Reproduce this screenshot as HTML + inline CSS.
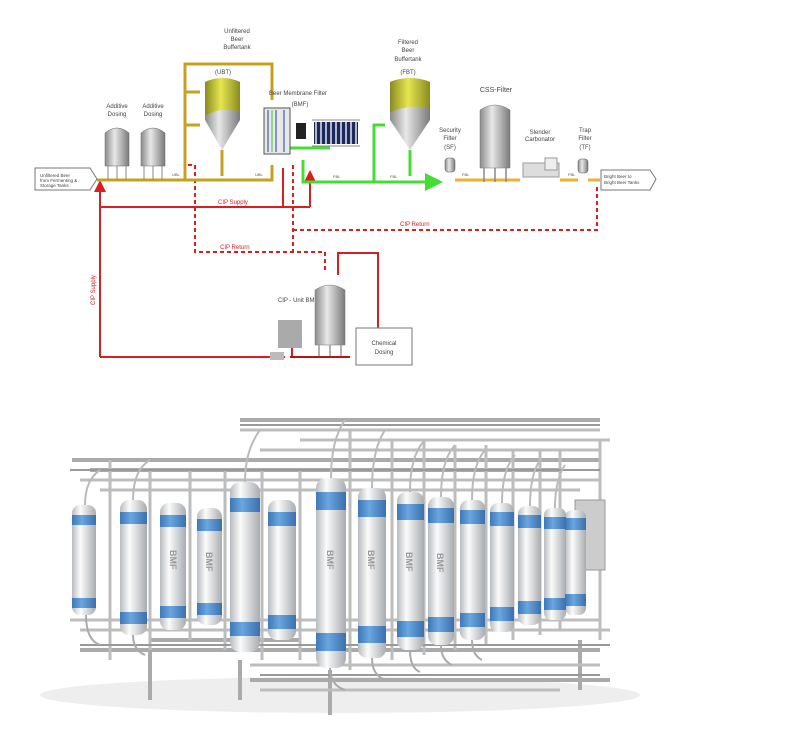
<!DOCTYPE html>
<html><head><meta charset="utf-8"><style>
html,body{margin:0;padding:0;background:#fff}
svg{display:block}
text{font-family:"Liberation Sans",sans-serif}
</style></head><body>
<svg width="788" height="738" viewBox="0 0 788 738" xmlns="http://www.w3.org/2000/svg">
<defs>
<linearGradient id="steel" x1="0" x2="1"><stop offset="0" stop-color="#8a8a8a"/><stop offset=".4" stop-color="#e8e8e8"/><stop offset="1" stop-color="#7a7a7a"/></linearGradient>
<linearGradient id="gold" x1="0" x2="1"><stop offset="0" stop-color="#8a8a20"/><stop offset=".45" stop-color="#e6e650"/><stop offset="1" stop-color="#8a8a20"/></linearGradient>
<linearGradient id="cyl" x1="0" x2="1"><stop offset="0" stop-color="#b8bcc0"/><stop offset=".35" stop-color="#fbfbfb"/><stop offset="1" stop-color="#a8acb0"/></linearGradient>
<linearGradient id="blue" x1="0" x2="1"><stop offset="0" stop-color="#3d78b8"/><stop offset=".4" stop-color="#6aa6e0"/><stop offset="1" stop-color="#3a70ad"/></linearGradient>
<marker id="ar" markerWidth="6" markerHeight="6" refX="5" refY="3" orient="auto"><path d="M0,0L6,3L0,6z" fill="#d82020"/></marker>
<marker id="ag" markerWidth="6" markerHeight="6" refX="5" refY="3" orient="auto"><path d="M0,0L6,3L0,6z" fill="#44dd33"/></marker>
</defs>

<!-- red CIP lines -->
<g stroke="#d82020" stroke-width="2" fill="none">
<path d="M100,357V182"/><path d="M100,357H285"/>
<path d="M100,207H283V168"/><path d="M310,207V172" marker-end="url(#ar)"/><path d="M283,207H310"/>
<path d="M338,275V253H378V330"/>
<path d="M300,357H292V348" />
</g>
<path d="M100,195V182" stroke="#d82020" stroke-width="2" marker-end="url(#ar)"/>
<g stroke="#d82020" stroke-width="2" fill="none" stroke-dasharray="4,3">
<path d="M188,165H195V252H325V272"/>
<path d="M293,165V252"/>
<path d="M293,230H597V185"/>
</g>
<text x="218" y="204" font-size="6" fill="#d82020">CIP Supply</text>
<text x="220" y="249" font-size="6" fill="#d82020">CIP Return</text>
<text x="400" y="226" font-size="6" fill="#d82020">CIP Return</text>
<text x="95" y="305" font-size="6" fill="#d82020" transform="rotate(-90 95 305)">CIP Supply</text>

<!-- yellow lines -->
<g stroke="#c8a020" stroke-width="3" fill="none">
<path d="M97,180H272V165"/><path d="M185,180V64H272V100"/>
<path d="M185,92H200"/><path d="M185,125H200"/><path d="M222,150V176"/>
</g>
<g stroke="#f0b030" stroke-width="3"><path d="M455,180H520"/><path d="M560,180H578"/><path d="M588,180H600"/></g>
<!-- green lines -->
<g stroke="#44dd33" stroke-width="3" fill="none">
<path d="M303,160V182H440" marker-end="url(#ag)"/>
<path d="M374,182V125H385"/><path d="M410,150V176"/>
<path d="M270,148H330"/>
</g>
<g font-size="4" fill="#555"><text x="172" y="176">UBL</text><text x="255" y="176">UBL</text><text x="333" y="178">FBL</text><text x="390" y="178">FBL</text><text x="462" y="176">FBL</text><text x="568" y="176">FBL</text></g>

<!-- inlet/outlet -->
<path d="M35,168H90L97,179L90,190H35Z" fill="#fff" stroke="#777"/>
<text x="40" y="177" font-size="4.5" fill="#444">Unfiltered Beer</text><text x="40" y="182" font-size="4.5" fill="#444">from Fermenting &amp;</text><text x="40" y="187" font-size="4.5" fill="#444">Storage Tanks</text>
<path d="M601,170H650L656,179L650,190H601Z" fill="#fff" stroke="#777"/>
<text x="604" y="178" font-size="4.5" fill="#444">Bright Beer to</text><text x="604" y="184" font-size="4.5" fill="#444">Bright Beer Tanks</text>

<!-- additive tanks -->
<g fill="url(#steel)" stroke="#666" stroke-width=".5">
<path d="M105,133Q117,123 129,133V166H105Z"/><path d="M141,133Q153,123 165,133V166H141Z"/>
</g>
<g stroke="#888"><path d="M108,166V180M117,166V180M126,166V180M144,166V180M153,166V180M162,166V180"/></g>
<g font-size="6" fill="#444" text-anchor="middle">
<text x="117" y="108">Additive</text><text x="117" y="116">Dosing</text>
<text x="153" y="108">Additive</text><text x="153" y="116">Dosing</text>
<text x="237" y="33">Unfiltered</text><text x="237" y="41">Beer</text><text x="237" y="49">Buffertank</text>
<text x="223" y="74">(UBT)</text>
<text x="298" y="95">Beer Membrane Filter</text><text x="300" y="106">(BMF)</text>
<text x="408" y="44">Filtered</text><text x="408" y="52">Beer</text><text x="408" y="61">Buffertank</text><text x="408" y="74">(FBT)</text>
<text x="496" y="92" font-size="7">CSS-Filter</text>
<text x="450" y="132">Security</text><text x="450" y="140">Filter</text><text x="450" y="149">(SF)</text>
<text x="540" y="134">Slender</text><text x="540" y="141">Carbonator</text>
<text x="585" y="132">Trap</text><text x="585" y="140">Filter</text><text x="585" y="149">(TF)</text>
<text x="298" y="302">CIP - Unit  BMF</text>
</g>

<!-- UBT -->
<path d="M205,82Q222,74 240,82V120L222,150L205,120Z" fill="url(#steel)"/>
<path d="M205,82Q222,74 240,82V112Q222,106 205,116Z" fill="url(#gold)"/>
<!-- FBT -->
<path d="M390,82Q410,74 430,82V120L410,150L390,120Z" fill="url(#steel)"/>
<path d="M390,82Q410,74 430,82V108Q410,104 390,112Z" fill="url(#gold)"/>

<!-- BMF -->
<g>
<rect x="264" y="108" width="26" height="46" fill="#e8e8e8" stroke="#555"/>
<path d="M268,110V152M276,110V152M284,110V152" stroke="#2040a0"/>
<path d="M272,110V152" stroke="#33cc33"/>
<rect x="296" y="123" width="10" height="16" fill="#222"/>
<g fill="#1a2a60"><rect x="314" y="122" width="44" height="22"/></g>
<path d="M316,122V144M321,122V144M326,122V144M331,122V144M336,122V144M341,122V144M346,122V144M351,122V144M356,122V144" stroke="#e8e8e8" stroke-width="1.5"/>
<path d="M312,120H360M312,146H360" stroke="#888"/>
</g>

<!-- SF, CSS, carbonator, TF -->
<rect x="445" y="158" width="10" height="14" rx="3" fill="url(#steel)" stroke="#555" stroke-width=".5"/>
<path d="M480,110Q495,100 510,110V168H480Z" fill="url(#steel)" stroke="#777" stroke-width=".5"/>
<path d="M484,168V182M495,168V182M506,168V182" stroke="#888" stroke-width="1.5"/>
<rect x="523" y="163" width="36" height="14" fill="#ddd" stroke="#999"/>
<rect x="545" y="158" width="12" height="12" fill="#eee" stroke="#999"/>
<rect x="578" y="159" width="10" height="14" rx="3" fill="url(#steel)" stroke="#555" stroke-width=".5"/>

<!-- CIP unit -->
<path d="M315,290Q330,280 345,290V345H315Z" fill="url(#steel)" stroke="#777" stroke-width=".5"/>
<path d="M319,345V358M330,345V358M341,345V358" stroke="#999" stroke-width="1.5"/>
<path d="M290,357H350" stroke="#b01818" stroke-width="2"/>
<rect x="278" y="320" width="24" height="28" fill="#aaa"/>
<rect x="270" y="352" width="14" height="8" fill="#bbb"/>
<rect x="356" y="328" width="56" height="37" fill="#fff" stroke="#777"/>
<text x="384" y="345" font-size="6" fill="#444" text-anchor="middle">Chemical</text><text x="384" y="354" font-size="6" fill="#444" text-anchor="middle">Dosing</text>

<!-- Photo -->
<ellipse cx="340" cy="695" rx="300" ry="18" fill="#eee"/>
<g stroke="#aaa" stroke-width="4" fill="none">
<path d="M72,460H600"/><path d="M240,420H600"/><path d="M90,470H560"/>
<path d="M80,650H600M250,680H610M150,640H300"/>
<path d="M150,650V700M240,660V700M330,670V715M580,640V690"/>
</g>
<g stroke="#bdbdbd" stroke-width="3" fill="none">
<path d="M80,480H600M100,490H580M240,430H600M300,440H610M260,450H600"/>
<path d="M110,460V660M150,470V650M190,470V640M225,470V650M262,470V660M300,470V660M350,430V670M392,440V660M424,440V655M455,445V650M486,445V645M513,450V640M540,450V635M560,450V630M600,440V640"/>
<path d="M70,620H600M80,630H610M250,665H600M260,690H560"/>
</g>
<g stroke="#999" stroke-width="2" fill="none">
<path d="M70,470H600M240,425H600M80,645H610M260,675H600"/>
</g>
<rect x="575" y="500" width="30" height="70" fill="#ccc" stroke="#999"/>
<g>
<g fill="url(#cyl)">
<rect x="72" y="505" width="24" height="110" rx="8"/>
<rect x="120" y="500" width="27" height="135" rx="9"/>
<rect x="160" y="503" width="26" height="127" rx="9"/>
<rect x="197" y="508" width="25" height="117" rx="9"/>
<rect x="268" y="500" width="28" height="140" rx="9"/>
<rect x="230" y="482" width="30" height="170" rx="10"/>
<rect x="565" y="510" width="21" height="105" rx="7"/>
<rect x="544" y="508" width="22" height="112" rx="7"/>
<rect x="518" y="506" width="23" height="119" rx="8"/>
<rect x="490" y="503" width="24" height="129" rx="8"/>
<rect x="460" y="500" width="25" height="140" rx="8"/>
<rect x="428" y="497" width="26" height="148" rx="9"/>
<rect x="397" y="492" width="27" height="158" rx="9"/>
<rect x="358" y="488" width="28" height="170" rx="9"/>
<rect x="316" y="478" width="30" height="190" rx="10"/>
</g>
<g fill="url(#blue)">
<rect x="72" y="515" width="24" height="10"/><rect x="72" y="598" width="24" height="10"/>
<rect x="120" y="512" width="27" height="12"/><rect x="120" y="612" width="27" height="12"/>
<rect x="160" y="515" width="26" height="12"/><rect x="160" y="606" width="26" height="12"/>
<rect x="197" y="519" width="25" height="12"/><rect x="197" y="603" width="25" height="12"/>
<rect x="268" y="512" width="28" height="14"/><rect x="268" y="615" width="28" height="14"/>
<rect x="230" y="498" width="30" height="14"/><rect x="230" y="622" width="30" height="14"/>
<rect x="565" y="518" width="21" height="12"/><rect x="565" y="594" width="21" height="12"/>
<rect x="544" y="517" width="22" height="12"/><rect x="544" y="598" width="22" height="12"/>
<rect x="518" y="515" width="23" height="13"/><rect x="518" y="601" width="23" height="13"/>
<rect x="490" y="512" width="24" height="14"/><rect x="490" y="607" width="24" height="14"/>
<rect x="460" y="510" width="25" height="14"/><rect x="460" y="613" width="25" height="14"/>
<rect x="428" y="508" width="26" height="15"/><rect x="428" y="617" width="26" height="15"/>
<rect x="397" y="504" width="27" height="16"/><rect x="397" y="621" width="27" height="16"/>
<rect x="358" y="500" width="28" height="17"/><rect x="358" y="626" width="28" height="17"/>
<rect x="316" y="492" width="30" height="18"/><rect x="316" y="633" width="30" height="18"/>
</g>
<g font-size="9" fill="#999" font-weight="bold">
<text transform="translate(327,550) rotate(90)">BMF</text>
<text transform="translate(368,550) rotate(90)">BMF</text>
<text transform="translate(406,552) rotate(90)">BMF</text>
<text transform="translate(437,553) rotate(90)">BMF</text>
<text transform="translate(170,550) rotate(90)">BMF</text>
<text transform="translate(206,552) rotate(90)">BMF</text>
</g>
</g>
<g stroke="#bbb" stroke-width="2" fill="none">
<path d="M85,505Q85,480 100,470M133,500Q133,470 150,460M245,482Q245,450 260,430M331,478Q331,440 345,420M372,488Q372,450 385,430M410,492Q410,455 425,440M441,497Q441,460 455,445M472,500Q472,465 485,450M502,503Q502,470 515,455M530,506Q530,475 540,460M555,508Q555,480 565,465"/>
</g>
<g stroke="#aaa" stroke-width="2" fill="none">
<path d="M86,615Q86,640 100,645M133,635Q133,650 145,655M330,668Q330,685 345,690M372,658Q372,675 385,680M410,650Q410,668 420,672M441,645Q441,660 452,665M472,640Q472,655 482,660"/>
</g>
</svg>
</body></html>
